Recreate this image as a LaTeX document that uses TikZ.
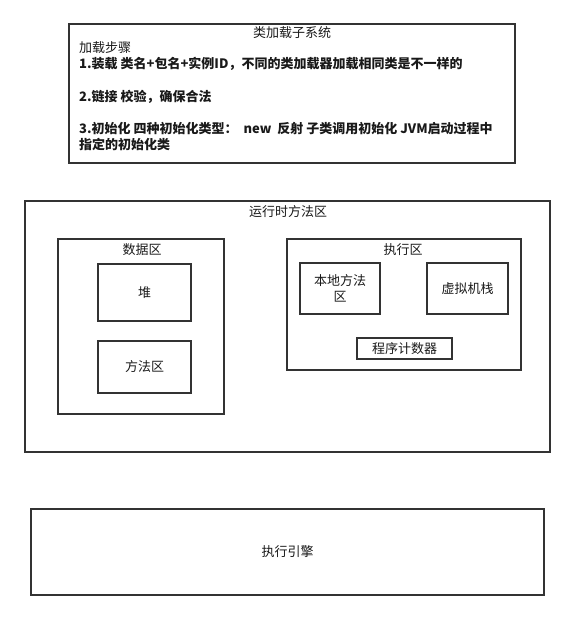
\documentclass[tikz,border=0pt]{standalone}
\usepackage{fontspec}
\setmainfont{Noto Sans CJK SC}
\usetikzlibrary{positioning}

\begin{document}
\begin{tikzpicture}[
  x=1pt, y=-1pt,
  box/.style = {draw=black!80, line width=1.4pt, rectangle, inner sep=0pt},
  boxtitle/.style = {anchor=center, inner sep=0pt},
  every node/.style = {font=\fontsize{13}{16.3}\selectfont, text=black!90}
]

% Canvas
\useasboundingbox (0,0) rectangle (575,620);

% Class loader subsystem
\node[box, minimum width=446pt, minimum height=139pt] (loader) at (292,93.5) {};
\node[boxtitle] (loadertitle) at (292,33) {类加载子系统};
\node[anchor=north west, align=left, inner sep=0pt] (steps) at (79,41) {加载步骤\\
  \textbf{1.装载 类名+包名+实例ID，不同的类加载器加载相同类是不一样的}\\[16.3pt]
  \textbf{2.链接 校验，确保合法}\\[16.3pt]
  \textbf{3.初始化 四种初始化类型：~ new~ 反射 子类调用初始化 JVM启动过程中}\\
  \textbf{指定的初始化类}};

% Runtime data area
\node[box, minimum width=525pt, minimum height=251pt] (runtime) at (287.5,326.5) {};
\node[boxtitle] (runtimetitle) at (288,212) {运行时方法区};

% Data area
\node[box, minimum width=166pt, minimum height=175pt] (data) at (141,326.5) {};
\node[boxtitle] (datatitle) at (142,250) {数据区};
\node[box, minimum width=93pt, minimum height=57pt] (heap) at (144.5,292.5) {堆};
\node[box, minimum width=93pt, minimum height=52pt] (method) at (144.5,367) {方法区};

% Execution area
\node[box, minimum width=234pt, minimum height=131pt] (exec) at (404,304.5) {};
\node[boxtitle] (exectitle) at (403,250) {执行区};
\node[box, minimum width=80pt, minimum height=51pt, align=center] (native) at (340,288.5) {本地方法\\区};
\node[box, minimum width=81pt, minimum height=51pt] (stack) at (467.5,288.5) {虚拟机栈};
\node[box, minimum width=95pt, minimum height=21pt] (pc) at (404.5,348.5) {程序计数器};

% Execution engine
\node[box, minimum width=513pt, minimum height=86pt] (engine) at (287.5,552) {执行引擎};

\end{tikzpicture}
\end{document}
